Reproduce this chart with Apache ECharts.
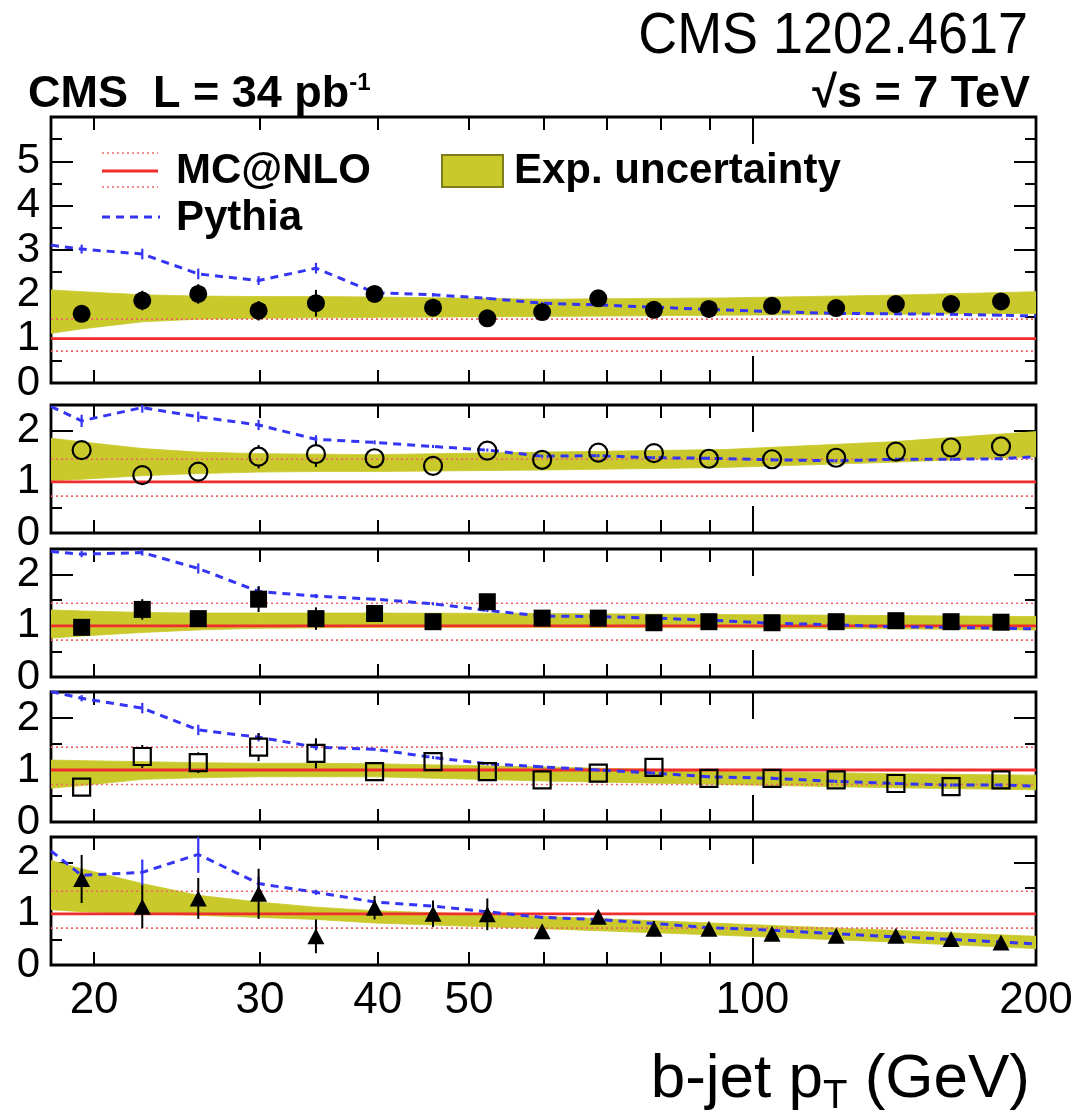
<!DOCTYPE html>
<html>
<head>
<meta charset="utf-8">
<script src="https://cdn.jsdelivr.net/npm/echarts@6/dist/echarts.min.js"></script>
<style>
  html, body { margin: 0; padding: 0; background: #fff; }
  #chart { width: 1087px; height: 1117px; }
</style>
</head>
<body>
<div id="chart"></div>
<script>
// b-jet pT bin centres (GeV)
const binCentres = [19.4, 22.5, 25.8, 29.9, 34.4, 39.7, 45.8, 52.3, 59.8, 68.6, 78.6, 89.9, 104.9, 122.7, 142.0, 162.5, 183.6];
// Pythia curve runs from frame edge to frame edge through the bin centres
const pythiaNodes = [18, ...binCentres, 200];
// nodes of the experimental uncertainty band
const bandNodes = [18, 19.4, 22.5, 25.8, 29.9, 34.4, 39.7, 59.8, 93.3, 140, 200];
// MC@NLO reference (ratio = 1) and its uncertainty, drawn across the full pT range
const frameEdges = [18, 200];
const mcnloCentral = [1, 1];
const mcnloUp = [1.44, 1.44];
const mcnloDown = [0.72, 0.72];

// x axis ticks and labels (GeV)
const xTickValues = [20, 30, 40, 50, 60, 70, 80, 90];
const xLongTickValues = [100];
const xLabelValues = [20, 30, 40, 50, 100, 200];

// panel 1 (filled circles)
const data1 = [1.56, 1.86, 2.01, 1.63, 1.80, 2.01, 1.70, 1.46, 1.60, 1.91, 1.65, 1.67, 1.74, 1.69, 1.78, 1.78, 1.84];
const err1 = [0.12, 0.22, 0.22, 0.22, 0.30, 0.10, 0.10, 0.10, 0.10, 0.10, 0.08, 0.08, 0.08, 0.08, 0.08, 0.08, 0.08];
const pythia1 = [3.11, 3.02, 2.91, 2.46, 2.31, 2.59, 2.04, 1.99, 1.91, 1.80, 1.76, 1.71, 1.66, 1.61, 1.57, 1.56, 1.55, 1.53, 1.51];
const pythiaErr1 = [0.10, 0.12, 0.12, 0.10, 0.12, 0.04, 0.04, 0.03, 0.03, 0.03, 0.03, 0.03, 0.03, 0.03, 0.03, 0.03, 0.03];
const bandLow1 = [1.12, 1.22, 1.38, 1.44, 1.46, 1.47, 1.48, 1.50, 1.53, 1.55, 1.57];
const bandHigh1 = [2.10, 2.06, 1.99, 1.96, 1.95, 1.95, 1.94, 1.89, 1.92, 1.98, 2.06];

// panel 2 (open circles)
const data2 = [1.62, 1.13, 1.20, 1.49, 1.54, 1.46, 1.31, 1.61, 1.43, 1.57, 1.56, 1.45, 1.44, 1.47, 1.59, 1.67, 1.69];
const err2 = [0.15, 0.12, 0.12, 0.23, 0.25, 0.10, 0.10, 0.10, 0.10, 0.08, 0.08, 0.08, 0.08, 0.08, 0.08, 0.08, 0.08];
const pythia2 = [2.47, 2.19, 2.45, 2.27, 2.11, 1.83, 1.77, 1.69, 1.62, 1.50, 1.51, 1.47, 1.46, 1.43, 1.41, 1.44, 1.44, 1.45, 1.49];
const pythiaErr2 = [0.12, 0.10, 0.10, 0.10, 0.08, 0.04, 0.03, 0.03, 0.03, 0.03, 0.03, 0.03, 0.03, 0.03, 0.03, 0.03, 0.03];
const bandLow2 = [1.02, 1.05, 1.12, 1.16, 1.19, 1.20, 1.20, 1.23, 1.28, 1.38, 1.49];
const bandHigh2 = [1.85, 1.78, 1.65, 1.58, 1.55, 1.54, 1.53, 1.58, 1.63, 1.78, 1.98];

// panel 3 (filled squares)
const data3 = [0.97, 1.32, 1.14, 1.52, 1.14, 1.24, 1.08, 1.47, 1.15, 1.15, 1.06, 1.08, 1.06, 1.08, 1.10, 1.08, 1.07];
const err3 = [0.10, 0.20, 0.15, 0.25, 0.22, 0.12, 0.10, 0.12, 0.08, 0.08, 0.08, 0.08, 0.08, 0.08, 0.08, 0.08, 0.08];
const pythia3 = [2.45, 2.40, 2.43, 2.12, 1.67, 1.58, 1.52, 1.43, 1.30, 1.19, 1.18, 1.15, 1.11, 1.05, 1.02, 0.98, 0.97, 0.95, 0.94];
const pythiaErr3 = [0.06, 0.06, 0.10, 0.10, 0.04, 0.03, 0.03, 0.03, 0.03, 0.03, 0.03, 0.03, 0.03, 0.03, 0.03, 0.03, 0.03];
const bandLow3 = [0.76, 0.80, 0.87, 0.92, 0.95, 0.96, 0.97, 0.97, 0.96, 0.94, 0.92];
const bandHigh3 = [1.31, 1.29, 1.26, 1.25, 1.25, 1.25, 1.25, 1.24, 1.22, 1.20, 1.18];

// panel 4 (open squares)
const data4 = [0.67, 1.26, 1.14, 1.44, 1.32, 0.97, 1.16, 0.97, 0.81, 0.94, 1.05, 0.84, 0.84, 0.81, 0.74, 0.68, 0.81];
const err4 = [0.10, 0.22, 0.20, 0.27, 0.29, 0.10, 0.10, 0.08, 0.08, 0.08, 0.08, 0.08, 0.08, 0.08, 0.08, 0.08, 0.08];
const pythia4 = [2.51, 2.38, 2.19, 1.77, 1.63, 1.44, 1.40, 1.24, 1.12, 1.06, 1.00, 0.94, 0.87, 0.84, 0.78, 0.74, 0.71, 0.71, 0.69];
const pythiaErr4 = [0.06, 0.10, 0.10, 0.08, 0.06, 0.03, 0.03, 0.03, 0.03, 0.03, 0.03, 0.03, 0.03, 0.03, 0.03, 0.03, 0.03];
const bandLow4 = [0.65, 0.70, 0.82, 0.85, 0.87, 0.87, 0.87, 0.79, 0.72, 0.66, 0.62];
const bandHigh4 = [1.19, 1.18, 1.16, 1.14, 1.13, 1.13, 1.12, 1.06, 0.98, 0.93, 0.90];

// panel 5 (filled triangles)
const data5 = [1.68, 1.14, 1.30, 1.39, 0.56, 1.12, 1.00, 0.99, 0.66, 0.94, 0.71, 0.71, 0.61, 0.57, 0.57, 0.51, 0.44];
const err5 = [0.47, 0.42, 0.40, 0.49, 0.33, 0.23, 0.26, 0.31, 0.10, 0.10, 0.15, 0.10, 0.08, 0.08, 0.08, 0.08, 0.08];
const pythia5 = [2.23, 1.75, 1.81, 2.16, 1.59, 1.42, 1.23, 1.15, 1.04, 0.93, 0.89, 0.81, 0.73, 0.68, 0.61, 0.55, 0.50, 0.45, 0.41];
const pythiaErr5 = [0.12, 0.25, 0.36, 0.13, 0.05, 0.04, 0.03, 0.03, 0.03, 0.03, 0.03, 0.03, 0.03, 0.03, 0.03, 0.03, 0.03];
const bandLow5 = [1.08, 1.04, 1.00, 0.97, 0.93, 0.89, 0.82, 0.71, 0.58, 0.45, 0.32];
const bandHigh5 = [2.04, 1.88, 1.59, 1.36, 1.23, 1.13, 1.06, 0.95, 0.81, 0.68, 0.56];

// ---------------------------------------------------------------------------
const RED = '#f02c2c';
const RED_DOT = '#f26464';
const BLUE = '#3434f4';
const BAND = '#c9c92c';
const FONT = '"Liberation Sans", Arial, Helvetica, sans-serif';

const lg = v => Math.log10(v);
const X_MIN = lg(18), X_MAX = lg(200);
const PLOT_LEFT = 51, PLOT_RIGHT = 51;

const panels = [
  { top: 117, height: 266, yMax: 6, yLabels: [0, 1, 2, 3, 4, 5], yMajor: [1, 2, 3, 4, 5], yMinor: [0.5, 1.5, 2.5, 3.5, 4.5, 5.5],
    data: data1, err: err1, pythia: pythia1, pythiaErr: pythiaErr1, low: bandLow1, high: bandHigh1,
    symbol: 'circle', filled: true, size: 18 },
  { top: 405, height: 128, yMax: 2.5, yLabels: [0, 1, 2], yMajor: [1, 2], yMinor: [0.5, 1.5],
    data: data2, err: err2, pythia: pythia2, pythiaErr: pythiaErr2, low: bandLow2, high: bandHigh2,
    symbol: 'circle', filled: false, size: 18 },
  { top: 549, height: 128, yMax: 2.5, yLabels: [0, 1, 2], yMajor: [1, 2], yMinor: [0.5, 1.5],
    data: data3, err: err3, pythia: pythia3, pythiaErr: pythiaErr3, low: bandLow3, high: bandHigh3,
    symbol: 'rect', filled: true, size: 17 },
  { top: 692, height: 130, yMax: 2.5, yLabels: [0, 1, 2], yMajor: [1, 2], yMinor: [0.5, 1.5],
    data: data4, err: err4, pythia: pythia4, pythiaErr: pythiaErr4, low: bandLow4, high: bandHigh4,
    symbol: 'rect', filled: false, size: 17 },
  { top: 837, height: 128, yMax: 2.5, yLabels: [0, 1, 2], yMajor: [1, 2], yMinor: [0.5, 1.5],
    data: data5, err: err5, pythia: pythia5, pythiaErr: pythiaErr5, low: bandLow5, high: bandHigh5,
    symbol: 'triangle', filled: true, size: [17, 16] }
];

function bandItem(params, api) {
  const a = api.coord([api.value(0), api.value(1)]);
  const b = api.coord([api.value(0), api.value(2)]);
  const c = api.coord([api.value(3), api.value(5)]);
  const d = api.coord([api.value(3), api.value(4)]);
  return { type: 'polygon', shape: { points: [a, b, c, d] },
           style: { fill: BAND, stroke: BAND, lineWidth: 0.8 } };
}

// vertical error bar; with a gap > 0 the part hidden inside an open marker is left out
function errorBar(color, width, gap) {
  return function (params, api) {
    const x = api.value(0), y = api.value(1), e = api.value(2);
    const top = api.coord([x, y + e]);
    const mid = api.coord([x, y]);
    const bot = api.coord([x, y - e]);
    const style = { stroke: color, lineWidth: width };
    if (!gap) {
      return { type: 'line', shape: { x1: top[0], y1: top[1], x2: bot[0], y2: bot[1] }, style };
    }
    const children = [];
    if (mid[1] - top[1] > gap) {
      children.push({ type: 'line', shape: { x1: top[0], y1: top[1], x2: mid[0], y2: mid[1] - gap }, style });
    }
    if (bot[1] - mid[1] > gap) {
      children.push({ type: 'line', shape: { x1: mid[0], y1: mid[1] + gap, x2: bot[0], y2: bot[1] }, style });
    }
    return { type: 'group', children };
  };
}

const grids = [], xAxes = [], yAxes = [], series = [];
const tickStyle = { color: '#000', width: 2 };

panels.forEach((p, i) => {
  grids.push({ left: PLOT_LEFT, right: PLOT_RIGHT, top: p.top, height: p.height,
               show: true, borderColor: '#000', borderWidth: 2.8, backgroundColor: 'transparent' });

  const xBase = { type: 'value', gridIndex: i, min: X_MIN, max: X_MAX,
                  axisLine: { show: false, onZero: false }, splitLine: { show: false },
                  axisLabel: { show: false } };
  const xi = xAxes.length;
  const isLast = i === panels.length - 1;
  xAxes.push(Object.assign({}, xBase, {
    position: 'bottom',
    axisTick: { show: true, inside: true, length: 13, lineStyle: tickStyle, customValues: xTickValues.map(lg) },
    axisLabel: isLast ? {
      show: true, customValues: xLabelValues.map(lg), margin: 14, color: '#000',
      fontFamily: FONT, fontSize: 44, showMinLabel: true, showMaxLabel: true,
      formatter: v => String(Math.round(Math.pow(10, v)))
    } : { show: false }
  }));
  xAxes.push(Object.assign({}, xBase, { position: 'bottom',
    axisTick: { show: true, inside: true, length: 27, lineStyle: tickStyle, customValues: xLongTickValues.map(lg) } }));
  xAxes.push(Object.assign({}, xBase, { position: 'top',
    axisTick: { show: true, inside: true, length: 13, lineStyle: tickStyle, customValues: xTickValues.map(lg) } }));
  xAxes.push(Object.assign({}, xBase, { position: 'top',
    axisTick: { show: true, inside: true, length: 27, lineStyle: tickStyle, customValues: xLongTickValues.map(lg) } }));

  const yBase = { type: 'value', gridIndex: i, min: 0, max: p.yMax,
                  axisLine: { show: false, onZero: false }, splitLine: { show: false },
                  axisLabel: { show: false } };
  const yi = yAxes.length;
  yAxes.push(Object.assign({}, yBase, {
    position: 'left',
    axisTick: { show: true, inside: true, length: 22, lineStyle: tickStyle, customValues: p.yMajor },
    axisLabel: { show: true, customValues: p.yLabels, margin: 11, color: '#000',
                 fontFamily: FONT, fontSize: 42, showMinLabel: true, showMaxLabel: true }
  }));
  yAxes.push(Object.assign({}, yBase, { position: 'left',
    axisTick: { show: true, inside: true, length: 11, lineStyle: tickStyle, customValues: p.yMinor } }));
  yAxes.push(Object.assign({}, yBase, { position: 'right',
    axisTick: { show: true, inside: true, length: 22, lineStyle: tickStyle, customValues: p.yMajor } }));
  yAxes.push(Object.assign({}, yBase, { position: 'right',
    axisTick: { show: true, inside: true, length: 11, lineStyle: tickStyle, customValues: p.yMinor } }));

  const ax = { xAxisIndex: xi, yAxisIndex: yi };

  // experimental uncertainty band
  series.push(Object.assign({
    type: 'custom', renderItem: bandItem, silent: true, z: 1, clip: true,
    encode: { x: [0, 3], y: [1, 2, 4, 5] },
    data: bandNodes.slice(0, -1).map((x, k) =>
      [lg(x), p.low[k], p.high[k], lg(bandNodes[k + 1]), p.low[k + 1], p.high[k + 1]])
  }, ax));

  // MC@NLO central and uncertainty lines
  const refLine = (vals, style) => Object.assign({
    type: 'line', symbol: 'none', silent: true, z: 3, lineStyle: style,
    data: frameEdges.map((x, k) => [lg(x), vals[k]])
  }, ax);
  series.push(refLine(mcnloUp, { color: RED_DOT, width: 1.6, type: [2, 3] }));
  series.push(refLine(mcnloDown, { color: RED_DOT, width: 1.6, type: [2, 3] }));
  series.push(refLine(mcnloCentral, { color: RED, width: 2.8 }));

  // Pythia prediction
  series.push(Object.assign({
    type: 'line', symbol: 'none', silent: true, z: 4, clip: true,
    lineStyle: { color: BLUE, width: 3, type: [8, 6] },
    data: pythiaNodes.map((x, k) => [lg(x), p.pythia[k]])
  }, ax));
  series.push(Object.assign({
    type: 'custom', renderItem: errorBar(BLUE, 2.2, 0), silent: true, z: 4, clip: true,
    encode: { x: 0, y: 1 },
    data: binCentres.map((x, k) => [lg(x), p.pythia[k + 1], p.pythiaErr[k]])
  }, ax));

  // measured ratios
  series.push(Object.assign({
    type: 'custom', renderItem: errorBar('#000', 2, p.filled ? 0 : 9), silent: true, z: 5, clip: true,
    encode: { x: 0, y: 1 },
    data: binCentres.map((x, k) => [lg(x), p.data[k], p.err[k]])
  }, ax));
  series.push(Object.assign({
    type: 'scatter', symbol: p.symbol, symbolSize: p.size,
    silent: true, z: 6,
    itemStyle: p.filled ? { color: '#000', opacity: 1 }
                        : { color: 'rgba(0,0,0,0)', borderColor: '#000', borderWidth: 2.2, opacity: 1 },
    data: binCentres.map((x, k) => [lg(x), p.data[k]])
  }, ax));
});

// legend inside the top panel, and page texts
const graphic = [
  { type: 'line', shape: { x1: 102, y1: 153, x2: 158, y2: 153 }, style: { stroke: RED_DOT, lineWidth: 1.6, lineDash: [2, 3] } },
  { type: 'line', shape: { x1: 102, y1: 171, x2: 158, y2: 171 }, style: { stroke: RED, lineWidth: 2.8 } },
  { type: 'line', shape: { x1: 102, y1: 187, x2: 158, y2: 187 }, style: { stroke: RED_DOT, lineWidth: 1.6, lineDash: [2, 3] } },
  { type: 'line', shape: { x1: 102, y1: 217, x2: 160, y2: 217 }, style: { stroke: BLUE, lineWidth: 3, lineDash: [8, 6] } },
  { type: 'text', x: 176, y: 171, style: { text: 'MC@NLO', font: 'bold 42px ' + FONT, fill: '#000', verticalAlign: 'middle' } },
  { type: 'text', x: 176, y: 218, style: { text: 'Pythia', font: 'bold 42px ' + FONT, fill: '#000', verticalAlign: 'middle' } },
  { type: 'rect', shape: { x: 442, y: 155, width: 61, height: 32 }, style: { fill: BAND, stroke: '#7d7d1c', lineWidth: 2 } },
  { type: 'text', x: 514, y: 171, style: { text: 'Exp. uncertainty', font: 'bold 42px ' + FONT, fill: '#000', verticalAlign: 'middle' } },

  { type: 'text', x: 1028, y: 37, scaleX: 0.93, originX: 0, originY: 0,
    style: { text: 'CMS 1202.4617', font: '58px ' + FONT, fill: '#000', align: 'right', verticalAlign: 'middle' } },
  { type: 'text', x: 28, y: 95, style: {
      text: '{m|CMS  L = 34 pb}{s|-1}', fill: '#000', verticalAlign: 'middle',
      rich: { m: { font: 'bold 45px ' + FONT, fill: '#000', lineHeight: 48 },
              s: { font: 'bold 24px ' + FONT, fill: '#000', lineHeight: 48, verticalAlign: 'top', padding: [0, 0, 18, 0] } } } },
  { type: 'text', x: 1030, y: 95, style: { text: '√s = 7 TeV', font: 'bold 45px ' + FONT, fill: '#000', align: 'right', verticalAlign: 'middle' } },
  { type: 'text', x: 1030, y: 1080, style: {
      text: '{m|b-jet p}{t|T}{m| (GeV)}', fill: '#000', align: 'right', verticalAlign: 'middle',
      rich: { m: { font: '62px ' + FONT, fill: '#000', lineHeight: 66 },
              t: { font: '40px ' + FONT, fill: '#000', lineHeight: 66, padding: [34, 0, 0, 0] } } } }
];

const chart = echarts.init(document.getElementById('chart'), null, { renderer: 'canvas' });
chart.setOption({
  animation: false,
  backgroundColor: '#fff',
  grid: grids,
  xAxis: xAxes,
  yAxis: yAxes,
  series: series,
  graphic: graphic
});
</script>
</body>
</html>
